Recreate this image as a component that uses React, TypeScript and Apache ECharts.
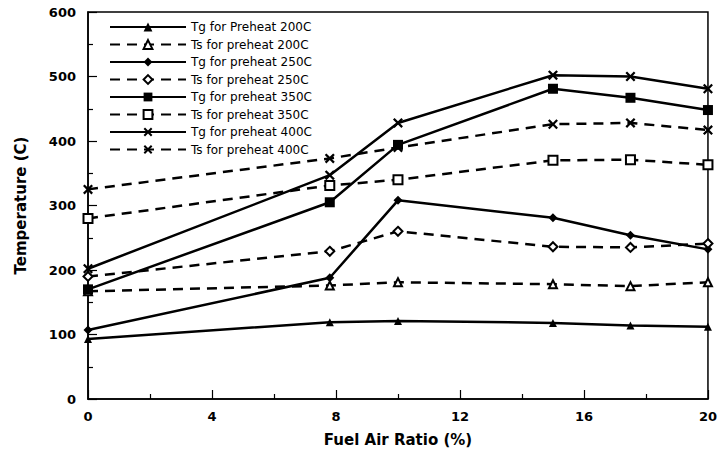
import React, { useEffect, useRef } from "react";
import * as echarts from "echarts";

const xValues = [0, 7.8, 10, 15, 17.5, 20];
const seriesNames = [
  "Tg for Preheat 200C",
  "Ts for preheat 200C",
  "Tg for preheat 250C",
  "Ts for preheat 250C",
  "Tg for preheat 350C",
  "Ts for preheat 350C",
  "Tg for preheat 400C",
  "Ts for preheat 400C",
];
const tg200 = [93, 119, 121, 118, 114, 112];
const ts200 = [167, 176, 181, 178, 175, 181];
const tg250 = [107, 188, 308, 281, 254, 232];
const ts250 = [190, 229, 260, 236, 235, 241];
const tg350 = [170, 305, 394, 481, 467, 448];
const ts350 = [280, 331, 340, 370, 371, 363];
const tg400 = [202, 347, 428, 502, 500, 481];
const ts400 = [325, 373, 390, 426, 428, 417];

const xTicks = [0, 4, 8, 12, 16, 20];
const yTicks = [0, 100, 200, 300, 400, 500, 600];

const X_PATH =
  "path://M0,1.6 L1.6,0 L5,3.4 L8.4,0 L10,1.6 L6.6,5 L10,8.4 L8.4,10 L5,6.6 L1.6,10 L0,8.4 L3.4,5 Z";

const FONT = "'DejaVu Sans', 'Liberation Sans', Arial, sans-serif";

export default function App() {
  const ref = useRef<HTMLDivElement>(null);
  useEffect(() => {
    if (!ref.current) return;
    const chart = echarts.init(ref.current, null, { renderer: "svg" });
    const all = [tg200, ts200, tg250, ts250, tg350, ts350, tg400, ts400];
    const symbols = [
      "triangle",
      "emptyTriangle",
      "diamond",
      "emptyDiamond",
      "rect",
      "emptyRect",
      X_PATH,
      X_PATH,
    ];
    const sizes = [8, 8, 9, 9, 10, 9, 10, 10];
    const series = all.map((vals, i) => ({
      name: seriesNames[i],
      type: "line",
      data: vals.map((v, j) => [xValues[j], v]),
      symbol: symbols[i],
      symbolSize: sizes[i],
      showSymbol: true,
      lineStyle: {
        color: "#000",
        width: 2.5,
        type: i % 2 === 1 ? [10, 7] : "solid",
      },
      itemStyle: {
        color: "#000",
        borderColor: "#000",
        borderWidth: symbols[i].startsWith("empty") ? 2 : 0,
      },
      z: 3,
    }));
    chart.setOption({
      animation: false,
      backgroundColor: "#fff",
      grid: {
        left: 88,
        top: 12,
        right: 11,
        bottom: 60,
        show: true,
        borderColor: "#000",
        borderWidth: 1.5,
        backgroundColor: "transparent",
      },
      legend: {
        orient: "vertical",
        left: 104,
        top: 16,
        itemWidth: 76,
        itemHeight: 11,
        itemGap: 5.5,
        data: seriesNames,
        textStyle: { fontFamily: FONT, fontSize: 12, color: "#000" },
        inactiveColor: "#000",
      },
      xAxis: {
        type: "value",
        min: 0,
        max: 20,
        interval: 4,
        name: "Fuel Air Ratio (%)",
        nameLocation: "middle",
        nameGap: 33,
        nameTextStyle: { fontFamily: FONT, fontSize: 15, fontWeight: "bold", color: "#000" },
        axisLine: { lineStyle: { color: "#000", width: 1.5 } },
        axisTick: { inside: true, length: 9, lineStyle: { color: "#000", width: 1.2 } },
        minorTick: { show: true, splitNumber: 2, length: 5, lineStyle: { color: "#000", width: 1.2 } },
        splitLine: { show: false },
        axisLabel: {
          fontFamily: FONT,
          fontSize: 13,
          fontWeight: "bold",
          color: "#000",
          margin: 11,
          formatter: (v: number) => (xTicks.includes(v) ? String(v) : ""),
        },
      },
      yAxis: {
        type: "value",
        min: 0,
        max: 600,
        interval: 100,
        name: "Temperature (C)",
        nameLocation: "middle",
        nameGap: 60,
        nameTextStyle: { fontFamily: FONT, fontSize: 15, fontWeight: "bold", color: "#000" },
        axisLine: { lineStyle: { color: "#000", width: 1.5 } },
        axisTick: { inside: true, length: 9, lineStyle: { color: "#000", width: 1.2 } },
        minorTick: { show: true, splitNumber: 2, length: 5, lineStyle: { color: "#000", width: 1.2 } },
        splitLine: { show: false },
        axisLabel: {
          fontFamily: FONT,
          fontSize: 13,
          fontWeight: "bold",
          color: "#000",
          margin: 12,
          formatter: (v: number) => (yTicks.includes(v) ? String(v) : ""),
        },
      },
      series,
    });
    return () => chart.dispose();
  }, []);
  return <div ref={ref} style={{ width: 720, height: 459, position: "absolute", left: 0, top: 0 }} />;
}
